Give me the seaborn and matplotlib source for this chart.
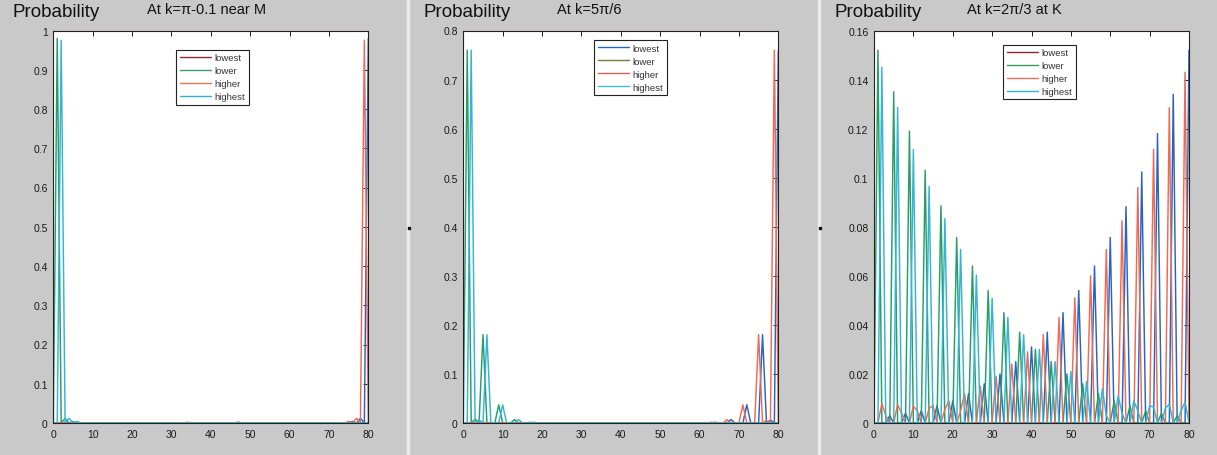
import matplotlib
matplotlib.use('Agg')
import matplotlib.pyplot as plt
import seaborn as sns
import pandas as pd
from matplotlib.ticker import FuncFormatter, MultipleLocator
from matplotlib.lines import Line2D

sites = list(range(81))
states = ['lowest', 'lower', 'higher', 'highest']

# panel 1: k = pi - 0.1 (near M)
p1_lowest = [0, 0, 0, 0, 0, 0, 0, 0, 0, 0,
             0, 0, 0, 0, 0, 0, 0, 0, 0, 0,
             0, 0, 0, 0, 0, 0, 0, 0, 0, 0,
             0, 0, 0, 0, 0, 0, 0, 0, 0, 0,
             0, 0, 0, 0, 0, 0, 0, 0.002, 0, 0,
             0, 0, 0, 0, 0, 0, 0, 0, 0, 0,
             0, 0, 0, 0, 0, 0, 0, 0, 0, 0,
             0, 0, 0, 0, 0, 0, 0.004, 0, 0.012, 0,
             0.98]
p1_lower = [0, 0.98, 0, 0.012, 0, 0.004, 0, 0, 0, 0,
            0, 0, 0, 0, 0, 0, 0, 0, 0, 0,
            0, 0, 0, 0, 0, 0, 0, 0, 0, 0,
            0, 0, 0, 0, 0, 0, 0, 0, 0, 0,
            0, 0, 0, 0, 0, 0, 0, 0, 0, 0,
            0, 0, 0, 0, 0, 0, 0, 0, 0, 0,
            0, 0, 0, 0, 0, 0, 0, 0, 0, 0,
            0, 0, 0, 0, 0, 0, 0, 0, 0, 0,
            0]
p1_higher = [0, 0, 0, 0, 0, 0, 0, 0, 0, 0,
             0, 0, 0, 0, 0, 0, 0, 0, 0, 0,
             0, 0, 0, 0, 0, 0, 0, 0, 0, 0,
             0, 0, 0, 0, 0.002, 0, 0, 0, 0, 0,
             0, 0, 0, 0, 0, 0, 0, 0, 0, 0,
             0, 0, 0, 0, 0, 0, 0, 0, 0, 0,
             0, 0, 0, 0, 0, 0, 0, 0, 0, 0,
             0, 0, 0, 0, 0, 0.004, 0, 0.012, 0, 0.975,
             0]
p1_highest = [0, 0, 0.975, 0, 0.012, 0, 0.004, 0, 0, 0,
              0, 0, 0, 0, 0, 0, 0, 0, 0, 0,
              0, 0, 0, 0, 0, 0, 0, 0, 0, 0,
              0, 0, 0, 0, 0, 0, 0, 0, 0, 0,
              0, 0, 0, 0, 0, 0, 0, 0, 0, 0,
              0, 0, 0, 0, 0, 0, 0, 0, 0, 0,
              0, 0, 0, 0, 0, 0, 0, 0, 0, 0,
              0, 0, 0, 0, 0, 0, 0, 0, 0, 0,
              0]

# panel 2: k = 5pi/6
p2_lowest = [0, 0, 0, 0, 0, 0, 0, 0, 0, 0,
             0, 0, 0, 0, 0, 0, 0, 0, 0, 0,
             0, 0, 0, 0, 0, 0, 0, 0, 0, 0,
             0, 0, 0, 0, 0, 0, 0, 0, 0, 0,
             0, 0, 0, 0, 0, 0, 0, 0, 0, 0,
             0, 0, 0, 0, 0, 0, 0, 0, 0, 0,
             0, 0, 0, 0, 0.0015, 0, 0, 0, 0.007, 0,
             0, 0, 0.037, 0, 0, 0, 0.18, 0, 0.006, 0,
             0.76]
p2_lower = [0, 0.76, 0, 0.008, 0, 0.18, 0, 0, 0, 0.037,
            0, 0, 0, 0.007, 0, 0, 0, 0.0015, 0, 0,
            0, 0, 0, 0, 0, 0, 0, 0, 0, 0,
            0, 0, 0, 0, 0, 0, 0, 0, 0, 0,
            0, 0, 0, 0, 0, 0, 0, 0, 0, 0,
            0, 0, 0, 0, 0, 0, 0, 0, 0, 0,
            0, 0, 0, 0, 0, 0, 0, 0, 0, 0,
            0, 0, 0, 0, 0, 0, 0, 0, 0, 0,
            0]
p2_higher = [0, 0, 0, 0, 0, 0, 0, 0, 0, 0,
             0, 0, 0, 0, 0, 0, 0, 0, 0, 0,
             0, 0, 0, 0, 0, 0, 0, 0, 0, 0,
             0, 0, 0, 0, 0, 0, 0, 0, 0, 0,
             0, 0, 0, 0, 0, 0, 0, 0, 0, 0,
             0, 0, 0, 0, 0, 0, 0, 0, 0, 0,
             0, 0, 0, 0.0015, 0, 0, 0, 0.007, 0, 0,
             0, 0.037, 0, 0, 0, 0.18, 0, 0.005, 0, 0.76,
             0]
p2_highest = [0, 0, 0.76, 0, 0.006, 0, 0.18, 0, 0, 0,
              0.037, 0, 0, 0, 0.007, 0, 0, 0, 0.0015, 0,
              0, 0, 0, 0, 0, 0, 0, 0, 0, 0,
              0, 0, 0, 0, 0, 0, 0, 0, 0, 0,
              0, 0, 0, 0, 0, 0, 0, 0, 0, 0,
              0, 0, 0, 0, 0, 0, 0, 0, 0, 0,
              0, 0, 0, 0, 0, 0, 0, 0, 0, 0,
              0, 0, 0, 0, 0, 0, 0, 0, 0, 0,
              0]

# panel 3: k = 2pi/3 (K point)
p3_lowest = [0, 0, 0, 0, 0.003, 0, 0, 0, 0.004, 0,
             0, 0, 0.005, 0, 0, 0, 0.007, 0, 0, 0,
             0.009, 0, 0, 0, 0.012, 0, 0, 0, 0.016, 0,
             0, 0, 0.020, 0, 0, 0, 0.025, 0, 0, 0,
             0.031, 0, 0, 0, 0.037, 0, 0, 0, 0.045, 0,
             0, 0, 0.054, 0, 0, 0, 0.064, 0, 0, 0,
             0.0756, 0, 0, 0, 0.0882, 0, 0, 0, 0.1023, 0,
             0, 0, 0.118, 0, 0, 0, 0.134, 0, 0, 0,
             0.152]
p3_lower = [0, 0.152, 0, 0, 0, 0.135, 0, 0, 0, 0.119,
            0, 0, 0, 0.103, 0, 0, 0, 0.0885, 0, 0,
            0, 0.0756, 0, 0, 0, 0.064, 0, 0, 0, 0.054,
            0, 0, 0, 0.045, 0, 0, 0, 0.037, 0, 0,
            0, 0.030, 0, 0, 0, 0.025, 0, 0, 0, 0.020,
            0, 0, 0, 0.016, 0, 0, 0, 0.012, 0, 0,
            0, 0.009, 0, 0, 0, 0.007, 0, 0, 0, 0.005,
            0, 0, 0, 0.004, 0, 0, 0, 0.003, 0, 0,
            0]
p3_higher = [0, 0, 0.008, 0.003, 0, 0, 0.0075, 0.004, 0, 0,
             0.0068, 0.005, 0, 0, 0.006, 0.007, 0, 0, 0.0055, 0.009,
             0, 0, 0.005, 0.012, 0, 0, 0, 0.015, 0, 0,
             0, 0.019, 0, 0, 0, 0.024, 0, 0, 0, 0.029,
             0, 0, 0, 0.036, 0, 0, 0, 0.043, 0, 0,
             0, 0.051, 0, 0, 0, 0.060, 0, 0, 0, 0.0708,
             0, 0, 0, 0.0824, 0, 0, 0, 0.096, 0, 0,
             0, 0.1115, 0, 0, 0, 0.1285, 0, 0, 0, 0.143,
             0]
p3_highest = [0, 0, 0.145, 0, 0, 0, 0.1286, 0, 0, 0,
              0.1115, 0, 0, 0, 0.0964, 0, 0, 0, 0.0833, 0,
              0, 0, 0.0708, 0, 0, 0, 0.0603, 0, 0, 0,
              0.0508, 0, 0, 0, 0.043, 0, 0, 0, 0.036, 0,
              0, 0, 0.030, 0, 0, 0, 0.025, 0, 0, 0,
              0.021, 0, 0, 0, 0.017, 0, 0, 0, 0.014, 0.003,
              0, 0, 0.011, 0.004, 0, 0, 0.009, 0.005, 0, 0,
              0.007, 0.0065, 0, 0, 0.006, 0.0077, 0, 0, 0.005, 0.0086,
              0]

subtitles = ['At k=\u03c0-0.1 near M', 'At k=5\u03c0/6', 'At k=2\u03c0/3 at K']
ymax = [1, 0.8, 0.16]
ystep = [0.1, 0.1, 0.02]
panels = [[p1_lowest, p1_lower, p1_higher, p1_highest],
          [p2_lowest, p2_lower, p2_higher, p2_highest],
          [p3_lowest, p3_lower, p3_higher, p3_highest]]

line_colors = ['#2a63c6', '#2f9a62', '#ec6b52', '#2cb8d8']
legend_colors = [['#8c2a2a', '#3c9a6c', '#e8735a', '#2ab4d4'],
                 ['#2266cc', '#7a7a3a', '#d9604a', '#3cc0d8'],
                 ['#8c2a2a', '#3a9a6a', '#e8735a', '#2ab4d4']]
legend_anchor = [(0.505, 0.95), (0.531, 0.975), (0.525, 0.964)]

sns.set_theme(style='white')
plt.rcParams['font.family'] = ['Liberation Sans', 'DejaVu Sans']

W, H = 1217, 456
fig = plt.figure(figsize=(W / 100, H / 100), dpi=100, facecolor='#c9c9c9')

lefts = [53.3, 463.3, 874]
title_x = [12.7, 423.3, 834]
sub_x = [146.7, 556.7, 966.7]

for i in range(3):
    ax = fig.add_axes([lefts[i] / W, 1 - 424 / H, 315 / W, 392.5 / H])
    ax.set_facecolor('white')
    rows = []
    for s, vals in zip(states, panels[i]):
        for x, v in zip(sites, vals):
            rows.append((x, v, s))
    df = pd.DataFrame(rows, columns=['site', 'prob', 'state'])
    sns.lineplot(data=df, x='site', y='prob', hue='state', hue_order=states,
                 palette=line_colors, linewidth=1.05, estimator=None,
                 sort=False, ax=ax)
    ax.set_xlim(0, 80)
    ax.set_ylim(0, ymax[i])
    ax.set_xlabel('')
    ax.set_ylabel('')
    ax.xaxis.set_major_locator(MultipleLocator(10))
    ax.yaxis.set_major_locator(MultipleLocator(ystep[i]))
    fmt = FuncFormatter(lambda v, p: f'{v:g}')
    ax.xaxis.set_major_formatter(fmt)
    ax.yaxis.set_major_formatter(fmt)
    ax.tick_params(direction='in', top=True, right=True, length=3.5,
                   width=0.7, labelsize=7.5, pad=4, colors='#1a1a1a')
    for sp in ax.spines.values():
        sp.set_color('#2a2020')
        sp.set_linewidth(0.8)

    handles, labels = ax.get_legend_handles_labels()
    leg = ax.legend(handles, labels, loc='upper center',
                    bbox_to_anchor=legend_anchor[i], fontsize=6.8,
                    frameon=True, fancybox=False, edgecolor='#222222',
                    framealpha=1, handlelength=3.3, handletextpad=0.4,
                    borderpad=0.35, labelspacing=0.42, borderaxespad=0)
    leg.get_frame().set_linewidth(0.8)
    for ln, c in zip(leg.get_lines(), legend_colors[i]):
        ln.set_color(c)
        ln.set_linewidth(1.0)
    for t in leg.get_texts():
        t.set_color('#333333')

    fig.text(title_x[i] / W, 1 - 16.7 / H, 'Probability', fontsize=13.5,
             ha='left', va='baseline', color='#111111')
    fig.text(sub_x[i] / W, 1 - 14 / H, subtitles[i], fontsize=10.5,
             ha='left', va='baseline', color='#111111')

# window borders between the three screenshots
for xs in [407.5, 818.5]:
    fig.add_artist(Line2D([xs / W, xs / W], [0, 1], transform=fig.transFigure,
                          color='#ebebeb', lw=2.5))
    fig.add_artist(Line2D([(xs + 1) / W], [1 - 229 / H], transform=fig.transFigure,
                          marker='s', ms=1.8, color='#111111', lw=0))

fig.savefig('out.png', dpi=100, facecolor=fig.get_facecolor())
